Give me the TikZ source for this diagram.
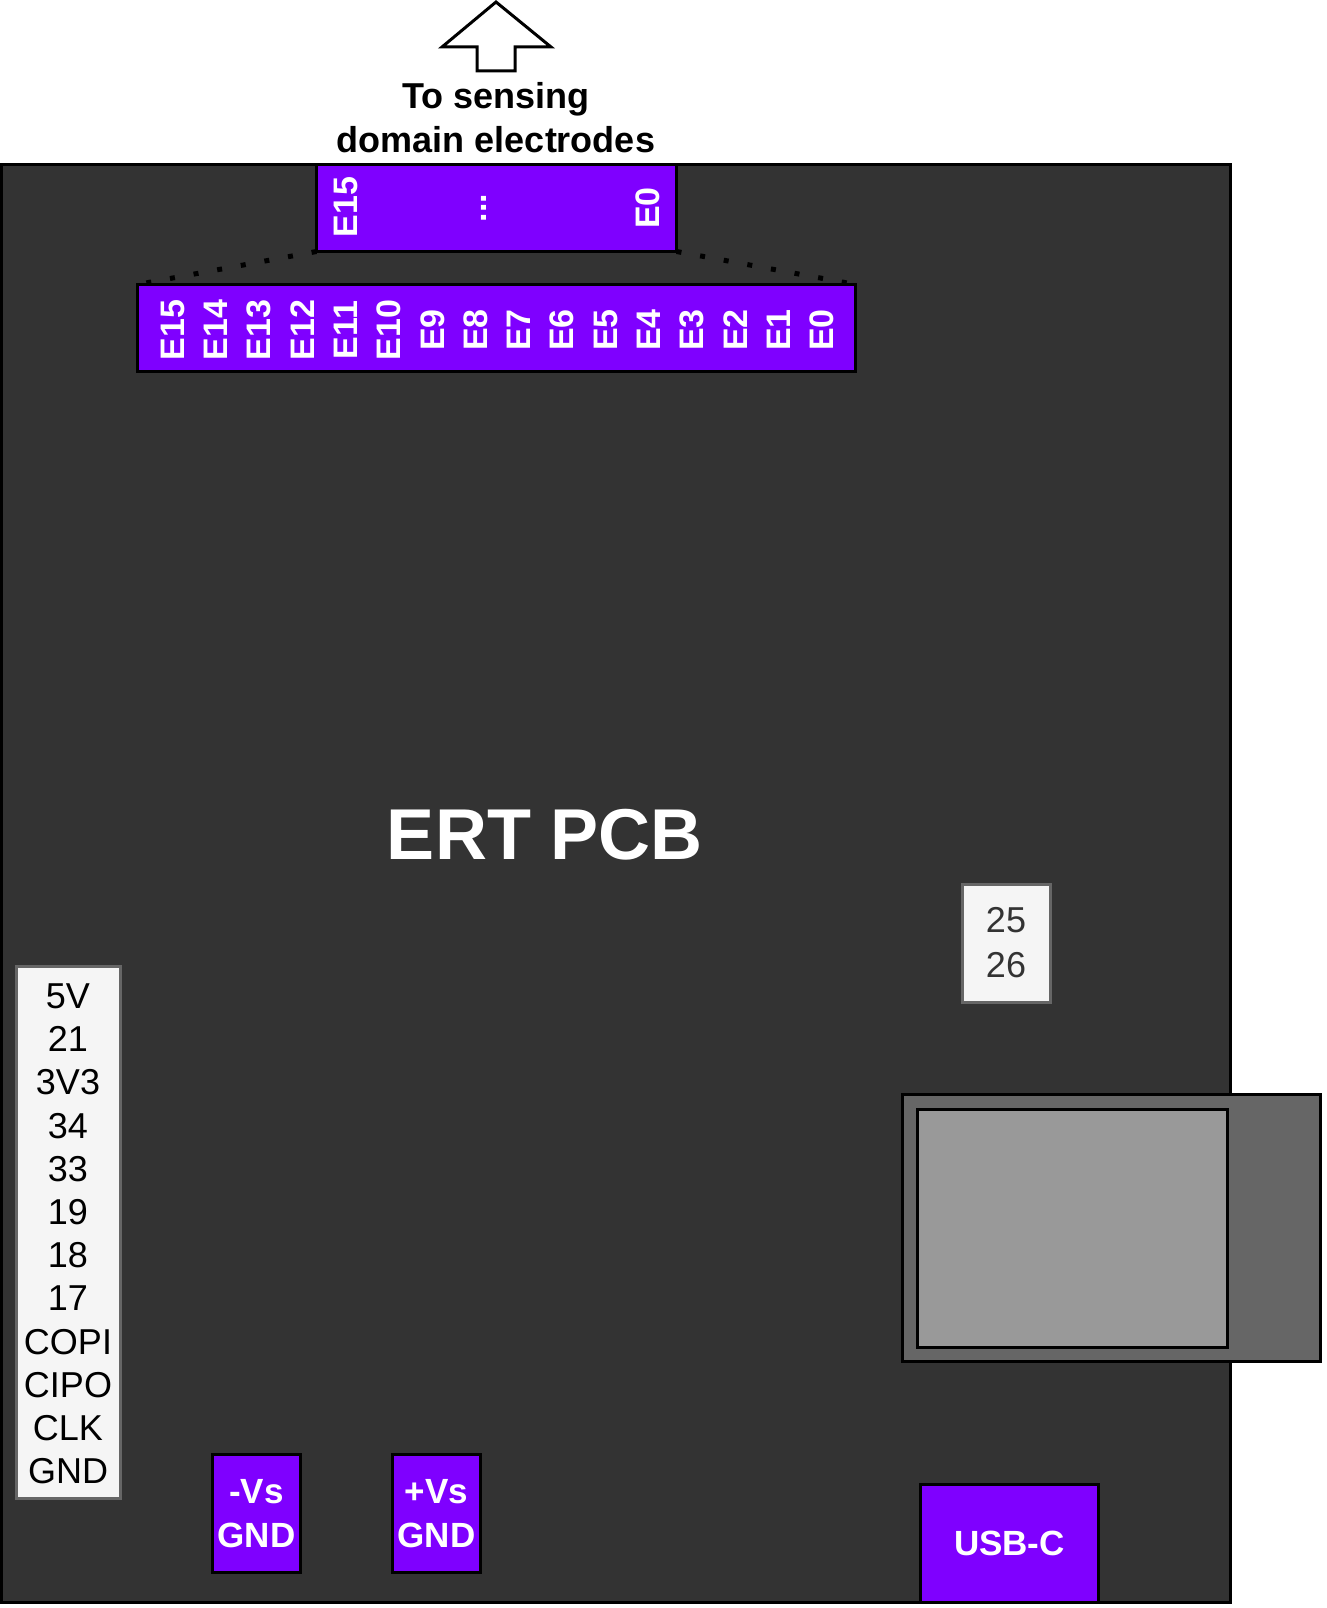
\documentclass[tikz,border=0pt]{standalone}
\usepackage{fontspec}
\setmainfont{Liberation Sans}
\usetikzlibrary{positioning}
\definecolor{pcbgray}{HTML}{333333}
\definecolor{padpurple}{HTML}{7F00FF}
\definecolor{pinfill}{HTML}{F5F5F5}
\definecolor{pinedge}{HTML}{666666}
\definecolor{usbdark}{HTML}{666666}
\definecolor{usblight}{HTML}{999999}

\tikzset{
  pad/.style={draw=black,line width=3pt,fill=padpurple,outer sep=0pt,inner sep=0pt},
  padtext/.style={text=white,font=\fontsize{35}{44}\selectfont\bfseries,align=center},
  elabel/.style={rotate=90,text=white,font=\fontsize{34}{40}\selectfont\bfseries,inner sep=0pt},
  header/.style={draw=pinedge,line width=3pt,fill=pinfill,outer sep=0pt,inner sep=0pt},
  pinlbl/.style={font=\fontsize{36}{43}\selectfont,inner sep=0pt},
  fanout/.style={line width=5pt,dash pattern=on 5pt off 19pt},
}

\begin{document}
\begin{tikzpicture}[x=1pt,y=-1pt]
\useasboundingbox (0,0) rectangle (1326,1608);
% board and usb housing
\draw[line width=3pt,fill=pcbgray] (1.5,164.5) rectangle (1230,1602);
\draw[line width=3pt,fill=usbdark] (902,1094.5) rectangle (1320.5,1361.5);
\draw[line width=3pt,fill=usblight] (917.5,1109.5) rectangle (1227.5,1347.5);
% outward arrow
\draw[line width=3pt,fill=white] (496,2) -- (551,47) -- (515,47) -- (515,71) -- (477,71) -- (477,47) -- (442,47) -- cycle;
\node[font=\fontsize{36}{44}\selectfont\bfseries,align=center] (dest) at (496,118) {To sensing\\domain electrodes};
% electrode connectors
\node[pad,minimum width=360pt,minimum height=87pt] (topconn) at (496.5,208) {};
\node[pad,minimum width=718pt,minimum height=87pt] (botconn) at (496.5,328) {};
\node[elabel] (top15) at (345.5,207) {E15};
\node[elabel] (topdots) at (484,208) {...};
\node[elabel] (top0) at (648,208) {E0};
\foreach \n in {0,...,15}
  \node[elabel] (e\n) at (822-43.3*\n,330) {E\n};
\draw[fanout] (topconn.south west) -- (botconn.north west);
\draw[fanout] (topconn.south east) -- (botconn.north east);
\node[text=white,font=\fontsize{72}{86}\selectfont\bfseries] (title) at (545,835) {ERT PCB};
% pin headers
\node[header,minimum width=88.5pt,minimum height=118pt] (hdrright) at (1006.25,943.5) {};
\node[pinlbl,text=pcbgray] (pin25) at (1006,920) {25};
\node[pinlbl,text=pcbgray] (pin26) at (1006,965) {26};
\node[header,minimum width=104pt,minimum height=532pt] (hdrleft) at (68.5,1232.5) {};
\foreach \lbl [count=\i from 0] in {5V,21,3V3,34,33,19,18,17,COPI,CIPO,CLK,GND}
  \node[pinlbl] (pin\i) at (68,996+43.2*\i) {\lbl};
% power and usb pads
\node[pad,padtext,minimum width=88pt,minimum height=118pt] (vneg) at (256.5,1513.5) {-Vs\\GND};
\node[pad,padtext,minimum width=88pt,minimum height=118pt] (vpos) at (436.5,1513.5) {+Vs\\GND};
\node[pad,padtext,minimum width=178pt,minimum height=117.5pt] (usbc) at (1009.5,1543.25) {USB-C};
\end{tikzpicture}
\end{document}
